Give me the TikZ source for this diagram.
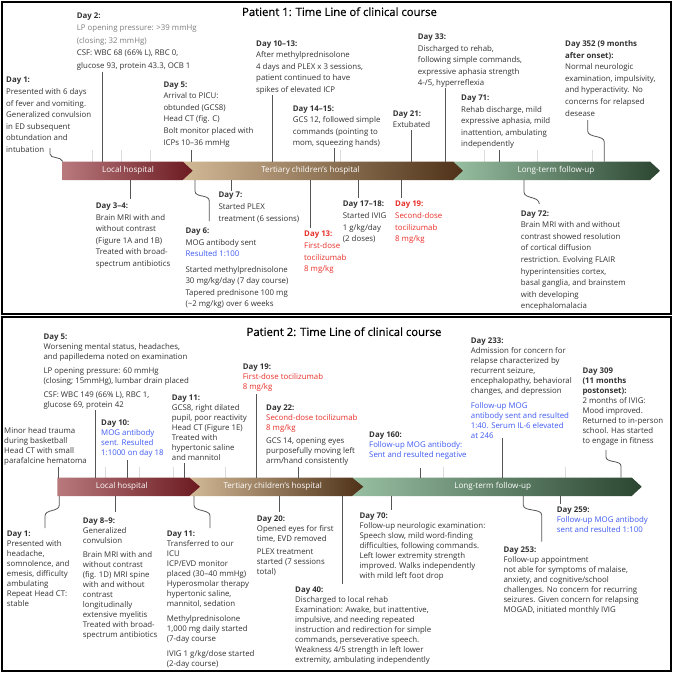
\documentclass[tikz,border=0pt]{standalone}
\usepackage{fontspec}
\setmainfont{Open Sans}
\newfontfamily\ttlfont{Open Sans}[FakeBold=0.5]
\definecolor{tx}{HTML}{333333}
\definecolor{gy}{HTML}{7F7F7F}
\definecolor{rd}{HTML}{E8302A}
\definecolor{bl}{HTML}{3F5BF2}
\definecolor{cn}{HTML}{555555}
\definecolor{tkc}{HTML}{DCDCDC}
\definecolor{la}{HTML}{B8797D}
\definecolor{lb}{HTML}{6B1A20}
\definecolor{ta}{HTML}{D2B996}
\definecolor{tb}{HTML}{4E3118}
\definecolor{ga}{HTML}{98BFA2}
\definecolor{gb}{HTML}{2B4531}
\begin{document}
\begin{tikzpicture}[x=1pt,y=-1pt,
  txa/.style={anchor=north west,inner sep=0pt,align=left,text=tx,font=\fontsize{7.85}{11.6}\selectfont},
  txb/.style={anchor=north west,inner sep=0pt,align=left,text=tx,font=\fontsize{7.85}{10}\selectfont},
  conn/.style={draw=cn,line width=0.8pt},
  tks/.style={draw=tkc,line width=0.6pt},
  ttl/.style={inner sep=0pt,text=black,font=\ttlfont\fontsize{11.3}{13}\selectfont},
  barlbl/.style={inner sep=0pt,text=white,font=\fontsize{8.1}{9}\selectfont},
  frame/.style={draw=black,line width=1.4pt}]
\useasboundingbox (0,0) rectangle (673,673);
\fill[white] (0,0) rectangle (673,673);
\draw[frame] (2,2) rectangle (671,314);
\draw[frame] (2,317) rectangle (671,671);

% ================= PATIENT 1 =================
\node[ttl] (t1) at (339.5,11.7) {Patient 1: Time Line of clinical course};

% faint ticks
\foreach \x in {92.7,121.7,150,340,484,537,592}{\draw[tks] (\x,150) -- (\x,161.5);}

% bar
\shade[left color=ga,right color=gb] (453,161.5) -- (650,161.5) -- (660,170.75) -- (650,180) -- (453,180) -- cycle;
\shade[left color=ta,right color=tb] (183,161.5) -- (453,161.5) -- (463,170.75) -- (453,180) -- (183,180) -- cycle;
\shade[left color=la,right color=lb] (62.7,161.5) -- (182.7,161.5) -- (192.7,170.75) -- (182.7,180) -- (62.7,180) -- cycle;
\node[barlbl] (a1) at (128,170.75) {Local hospital};
\node[barlbl] (a2) at (310.5,170.75) {Tertiary children’s hospital};
\node[barlbl] (a3) at (556,170.75) {Long-term follow-up};

% above texts
\node[txa] (p1d1) at (6,77.0) {\textbf{Day 1:}\\Presented with 6 days\\of fever and vomiting.\\Generalized convulsion\\in ED subsequent\\obtundation and\\intubation};
\node[txa,font=\fontsize{7.85}{12.4}\selectfont] (p1d2) at (76.7,12.7) {\textbf{Day 2:}\\\textcolor{gy}{LP opening pressure: >39 mmHg}\\\textcolor{gy}{(closing; 32 mmHg)}\\CSF: WBC 68 (66\% L), RBC 0,\\glucose 93, protein 43.3, OCB 1};
\node[txa] (p1d5) at (163.3,81.3) {\textbf{Day 5:}\\Arrival to PICU:\\obtunded (GCS8)\\Head CT (fig. C)\\Bolt monitor placed with\\ICPs 10–36 mmHg};
\node[txa] (p1d10) at (256,40.3) {\textbf{Day 10–13:}\\After methylprednisolone\\4 days and PLEX x 3 sessions,\\patient continued to have\\spikes of elevated ICP};
\node[txa] (p1d14) at (292.7,105.3) {\textbf{Day 14–15:}\\GCS 12, followed simple\\commands (pointing to\\mom, squeezing hands)};
\node[txa] (p1d21) at (392.7,110.3) {\textbf{Day 21:}\\Extubated};
\node[txa] (p1d33) at (417.7,33.7) {\textbf{Day 33:}\\Discharged to rehab,\\following simple commands,\\expressive aphasia strength\\4-/5, hyperreflexia};
\node[txa] (p1d71) at (461,94.7) {\textbf{Day 71:}\\Rehab discharge, mild\\expressive aphasia, mild\\inattention, ambulating\\independently};
\node[txa] (p1d352) at (565,40.3) {\textbf{Day 352 (9 months}\\\textbf{after onset):}\\Normal neurologic\\examination, impulsivity,\\and hyperactivity. No\\concerns for relapsed\\desease};

% below texts
\node[txa] (p1d3) at (95.7,202.7) {\textbf{Day 3–4:}\\Brain MRI with and\\without contrast\\(Figure 1A and 1B)\\Treated with broad-\\spectrum antibiotics};
\node[txa] (p1d6) at (185.3,227.7) {\textbf{Day 6:}\\MOG antibody sent\\\textcolor{bl}{Resulted 1:100}\\[3.7pt]Started methylprednisolone\\30 mg/kg/day (7 day course)\\Tapered prednisone 100 mg\\(\textasciitilde2 mg/kg) over 6 weeks};
\node[txa] (p1d7) at (218.3,192) {\textbf{Day 7:}\\Started PLEX\\treatment (6 sessions)};
\node[txa,text=rd] (p1d13) at (304,231) {\textbf{Day 13:}\\First-dose\\tocilizumab\\8 mg/kg};
\node[txa] (p1d17) at (342.7,201) {\textbf{Day 17–18:}\\Started IVIG\\1 g/kg/day\\(2 doses)};
\node[txa,text=rd] (p1d19) at (395,201) {\textbf{Day 19:}\\Second-dose\\tocilizumab\\8 mg/kg};
\node[txa] (p1d72) at (520.7,210.3) {\textbf{Day 72:}\\Brain MRI with and without\\contrast showed resolution\\of cortical diffusion\\restriction. Evolving FLAIR\\hyperintensities cortex,\\basal ganglia, and brainstem\\with developing\\encephalomalacia};

% connectors above
\draw[conn] (50,148) -- (50,154) .. controls (50,159) and (61,156) .. (62.7,161.5);
\draw[conn] (102.3,72) -- (102.3,161.5);
\draw[conn] (191.7,150) -- (191.7,161.5);
\draw[conn] (272.7,95) -- (272.7,161.5);
\draw[conn] (334.3,148) -- (334.3,161.5);
\draw[conn] (411,130) -- (411,161.5);
\draw[conn] (445.7,88) -- (445.7,161.5);
\draw[conn] (499,150) -- (499,161.5);
\draw[conn] (587.7,120) -- (587.7,131) .. controls (587.7,138) and (604.3,135) .. (604.3,142) -- (604.3,161.5);
% connectors below
\draw[conn] (130.7,180) -- (130.7,199);
\draw[conn] (195,180) -- (195,191) .. controls (195,198) and (209.3,194) .. (209.3,201) -- (209.3,221);
\draw[conn] (231.7,180) -- (231.7,190.5);
\draw[conn] (310.7,180) -- (310.7,228);
\draw[conn] (358.3,180) -- (358.3,197.5);
\draw[conn] (401.7,180) -- (401.7,197.5);
\draw[conn] (524,180) -- (524,192) .. controls (524,199) and (539.3,196) .. (539.3,204);

% ================= PATIENT 2 =================
\node[ttl] (t2) at (344,331.7) {Patient 2: Time Line of clinical course};

\foreach \x in {105,139.3,173.3,225,330,443.3,565}{\draw[tks] (\x,466.5) -- (\x,477.5);}

\shade[left color=ga,right color=gb] (352,477.5) -- (631.7,477.5) -- (641.7,486.75) -- (631.7,496) -- (352,496) -- cycle;
\shade[left color=ta,right color=tb] (189.3,477.5) -- (352,477.5) -- (363.3,486.75) -- (352,496) -- (189.3,496) -- cycle;
\shade[left color=la,right color=lb] (57.3,477.5) -- (189.3,477.5) -- (200,486.75) -- (189.3,496) -- (57.3,496) -- cycle;
\node[barlbl] (b1) at (121.7,486.75) {Local hospital};
\node[barlbl] (b2) at (272.7,486.75) {Tertiary children’s hospital};
\node[barlbl] (b3) at (492.7,486.75) {Long-term follow-up};

% above texts
\node[txb] (p2d5) at (43.3,333.7) {\textbf{Day 5:}\\Worsening mental status, headaches,\\and papilledema noted on examination\\[4pt]LP opening pressure: 60 mmHg\\(closing; 15mmHg), lumbar drain placed\\[4pt]CSF: WBC 149 (66\% L), RBC 1,\\glucose 69, protein 42};
\node[txb] (p2m) at (4,427.7) {Minor head trauma\\during basketball\\Head CT with small\\parafalcine hematoma};
\node[txb] (p2d10) at (101,419.7) {\textbf{Day 10:}\\\textcolor{bl}{MOG antibody}\\\textcolor{bl}{sent. Resulted}\\\textcolor{bl}{1:1000 on day 18}};
\node[txb] (p2d11a) at (171.7,394.3) {\textbf{Day 11:}\\GCS8, right dilated\\pupil, poor reactivity\\Head CT (Figure 1E)\\Treated with\\hypertonic saline\\and mannitol};
\node[txb] (p2d19) at (242.7,363.7) {\textbf{Day 19:}\\\textcolor{rd}{First-dose tocilizumab}\\\textcolor{rd}{8 mg/kg}};
\node[txb] (p2d22) at (266,404.3) {\textbf{Day 22:}\\\textcolor{rd}{Second-dose tocilizumab}\\\textcolor{rd}{8 mg/kg}\\[3.3pt]GCS 14, opening eyes\\purposefully moving left\\arm/hand consistently};
\node[txb] (p2d160) at (369,431.3) {\textbf{Day 160:}\\\textcolor{bl}{Follow-up MOG antibody:}\\\textcolor{bl}{Sent and resulted negative}};
\node[txb] (p2d233) at (470.7,338) {\textbf{Day 233:}\\Admission for concern for\\relapse characterized by\\recurrent seizure,\\encephalopathy, behavioral\\changes, and depression\\[4.3pt]\textcolor{bl}{Follow-up MOG}\\\textcolor{bl}{antibody sent and resulted}\\\textcolor{bl}{1:40. Serum IL-6 elevated}\\\textcolor{bl}{at 246}};
\node[txb] (p2d309) at (582.3,368) {\textbf{Day 309}\\\textbf{(11 months}\\\textbf{postonset):}\\2 months of IVIG:\\Mood improved.\\Returned to in-person\\school. Has started\\to engage in fitness};

% below texts
\node[txb] (p2d1) at (6.7,530.3) {\textbf{Day 1:}\\Presented with\\headache,\\somnolence, and\\emesis, difficulty\\ambulating\\Repeat Head CT:\\stable};
\node[txb] (p2d8) at (82.7,517.7) {\textbf{Day 8–9:}\\Generalized\\convulsion\\[4pt]Brain MRI with and\\without contrast\\(fig. 1D) MRI spine\\with and without\\contrast\\longitudinally\\extensive myelitis\\Treated with broad-\\spectrum antibiotics};
\node[txb] (p2d11b) at (166.7,530.3) {\textbf{Day 11:}\\Transferred to our\\ICU\\ICP/EVD monitor\\placed (30–40 mmHg)\\Hyperosmolar therapy\\hypertonic saline,\\mannitol, sedation\\[5pt]Methylprednisolone\\1,000 mg daily started\\(7-day course\\[5pt]IVIG 1 g/kg/dose started\\(2-day course)};
\node[txb] (p2d20) at (256.7,515.3) {\textbf{Day 20:}\\Opened eyes for first\\time, EVD removed\\[3.3pt]PLEX treatment\\started (7 sessions\\total)};
\node[txb] (p2d40) at (295,587) {\textbf{Day 40:}\\Discharged to local rehab\\Examination: Awake, but inattentive,\\impulsive, and needing repeated\\instruction and redirection for simple\\commands, perseverative speech.\\Weakness 4/5 strength in left lower\\extremity, ambulating independently};
\node[txb] (p2d70) at (359.3,512.7) {\textbf{Day 70:}\\Follow-up neurologic examination:\\Speech slow, mild word-finding\\difficulties, following commands.\\Left lower extremity strength\\improved. Walks independently\\with mild left foot drop};
\node[txb] (p2d253) at (503.3,546.3) {\textbf{Day 253:}\\Follow-up appointment\\not able for symptoms of malaise,\\anxiety, and cognitive/school\\challenges. No concern for recurring\\seizures. Given concern for relapsing\\MOGAD, initiated monthly IVIG};
\node[txb] (p2d259) at (556.7,507) {\textbf{Day 259:}\\\textcolor{bl}{Follow-up MOG antibody}\\\textcolor{bl}{sent and resulted 1:100}};

% connectors above
\draw[conn] (58.3,466.5) -- (58.3,477.5);
\draw[conn] (95.7,410) -- (95.7,477.5);
\draw[conn] (127.7,460) -- (127.7,477.5);
\draw[conn] (184,463) -- (184,477.5);
\draw[conn] (256.7,394) -- (256.7,477.5);
\draw[conn] (298.3,466.5) -- (298.3,477.5);
\draw[conn] (420,468) -- (420,477.5);
\draw[conn] (502.3,438) -- (502.3,477.5);
\draw[conn] (606,450) -- (606,457) .. controls (606,463) and (621,460) .. (621,466) -- (621,477.5);
% connectors below
\draw[conn] (59.3,496) -- (59.3,505) .. controls (59.3,512) and (45,509) .. (45,516) -- (45,528);
\draw[conn] (115.7,496) -- (115.7,511.5);
\draw[conn] (194,496) -- (194,505) .. controls (194,512) and (210,509) .. (210,516) -- (210,528);
\draw[conn] (279.3,496) -- (279.3,511.5);
\draw[conn] (342.7,496) -- (342.7,584);
\draw[conn] (391,496) -- (391,510);
\draw[conn] (523.3,496) -- (523.3,505) .. controls (523.3,512) and (541.7,508) .. (541.7,515) -- (541.7,541.5);
\draw[conn] (560.7,496) -- (560.7,504.3);
\end{tikzpicture}
\end{document}
